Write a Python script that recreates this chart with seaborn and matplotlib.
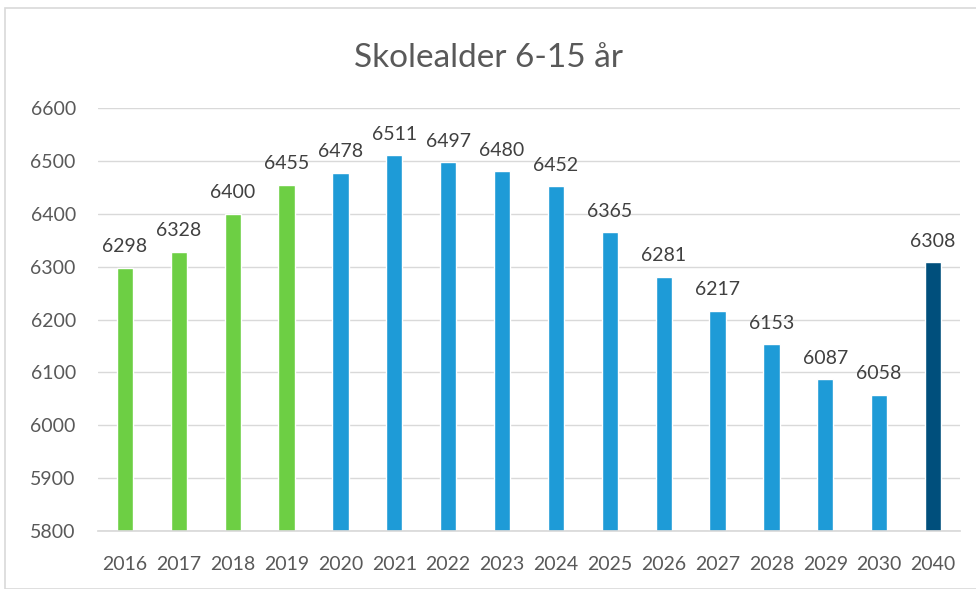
import matplotlib
matplotlib.use("Agg")
import matplotlib.pyplot as plt
import seaborn as sns
import pandas as pd
from matplotlib.patches import Rectangle

years = ["2016", "2017", "2018", "2019", "2020", "2021", "2022", "2023",
         "2024", "2025", "2026", "2027", "2028", "2029", "2030", "2040"]
values = [6298, 6328, 6400, 6455, 6478, 6511, 6497, 6480,
          6452, 6365, 6281, 6217, 6153, 6087, 6058, 6308]
groups = ["hist"] * 4 + ["proj"] * 11 + ["far"]
colors = {"hist": "#6DCF44", "proj": "#1E9BD7", "far": "#004F7C"}

sns.set_theme(style="white")
plt.rcParams["font.family"] = ["Lato", "DejaVu Sans"]

df = pd.DataFrame({"year": years, "value": values, "group": groups})

fig = plt.figure(figsize=(9.76, 5.89), dpi=100)
ax = fig.add_axes([0.1004, 0.0985, 0.8832, 0.7181])

sns.barplot(data=df, x="year", y="value", hue="group", palette=colors,
            dodge=False, width=0.3, legend=False, ax=ax, order=years,
            saturation=1)

ax.set_ylim(5800, 6600)
ax.set_xlim(-0.5, 15.5)
ax.set_yticks(range(5800, 6601, 100))
ax.yaxis.grid(True, color="#D9D9D9", linewidth=1)
ax.set_axisbelow(True)
for s in ["top", "right", "left"]:
    ax.spines[s].set_visible(False)
ax.spines["bottom"].set_color("#D9D9D9")
ax.tick_params(axis="both", length=0, labelsize=14, colors="#595959")
ax.tick_params(axis="x", pad=18)
ax.tick_params(axis="y", pad=16)
ax.set_xlabel("")
ax.set_ylabel("")

for i, v in enumerate(values):
    ax.annotate(str(v), (i, v), xytext=(0, 9), textcoords="offset points",
                ha="center", va="bottom", fontsize=14, color="#404040")

fig.text(0.5, 0.902, "Skolealder 6-15 år", ha="center", va="center",
         fontsize=24, color="#595959")

fig.patches.append(Rectangle((5 / 976, 0.0), 1.2, 1 - 8 / 589,
                             transform=fig.transFigure, fill=False,
                             edgecolor="#D9D9D9", linewidth=1.2))

fig.savefig("out.png", dpi=100)
